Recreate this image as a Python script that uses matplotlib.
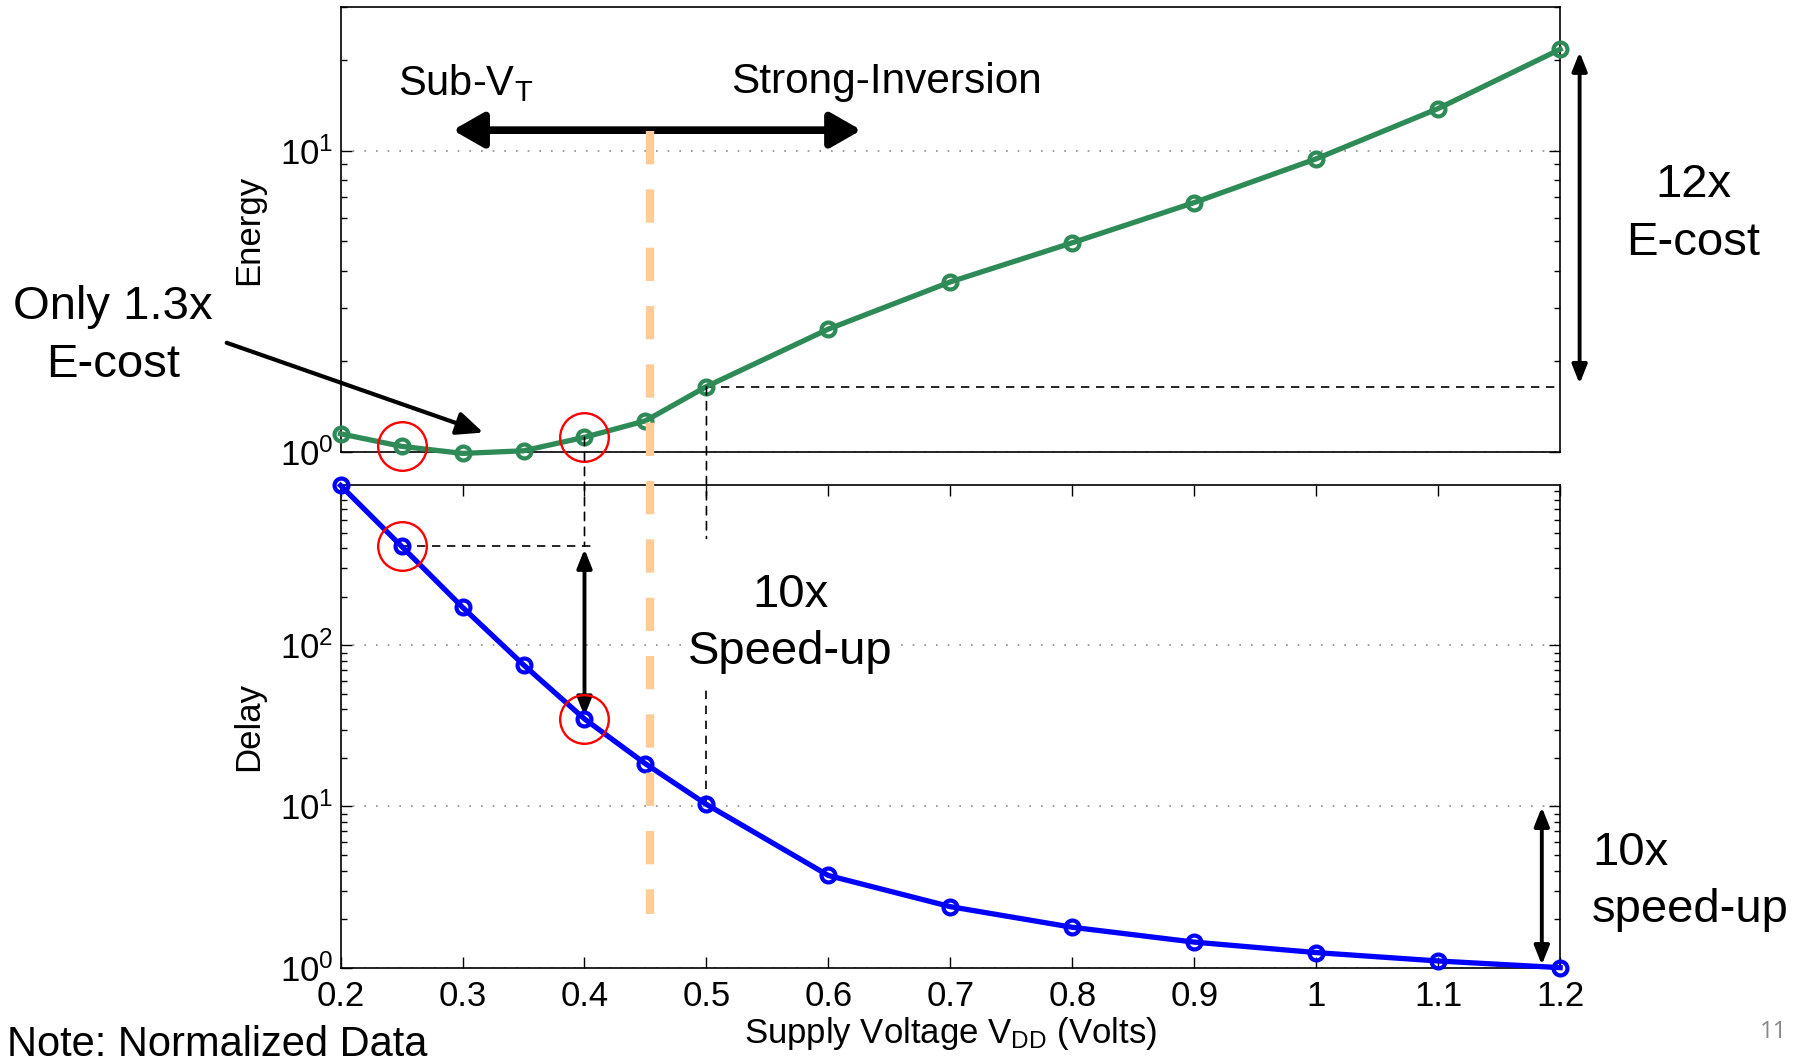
import numpy as np
import matplotlib
matplotlib.use("Agg")
import matplotlib.pyplot as plt
from matplotlib.patches import ConnectionPatch
from matplotlib.lines import Line2D
from matplotlib.transforms import blended_transform_factory

# Normalized data
vdd = [0.2, 0.25, 0.3, 0.35, 0.4, 0.45, 0.5, 0.6, 0.7, 0.8, 0.9, 1.0, 1.1, 1.2]
energy = [1.15, 1.045, 0.99, 1.01, 1.12, 1.27, 1.65, 2.56, 3.67, 4.95, 6.73, 9.4, 13.8, 21.7]
delay = [980, 411, 172, 75.6, 34.9, 18.4, 10.3, 3.73, 2.39, 1.78, 1.44, 1.24, 1.10, 1.0]
circled = [0.25, 0.4]
xtick_vals = [0.2, 0.3, 0.4, 0.5, 0.6, 0.7, 0.8, 0.9, 1.0, 1.1, 1.2]
xtick_labels = ["0.2", "0.3", "0.4", "0.5", "0.6", "0.7", "0.8", "0.9", "1", "1.1", "1.2"]
v_boundary = 0.454

green = "#2E8B57"
blue = "#0000FF"
peach = "#FFCC99"

plt.rcParams["font.family"] = ["Liberation Sans", "DejaVu Sans"]
plt.rcParams["mathtext.default"] = "regular"

E = dict(zip(vdd, energy))
D = dict(zip(vdd, delay))

fig = plt.figure(figsize=(18.04, 10.63), dpi=100)
ax1 = fig.add_axes([0.1888, 0.5747, 0.676, 0.4188])
ax2 = fig.add_axes([0.1888, 0.0897, 0.676, 0.4536])

for ax in (ax1, ax2):
    ax.set_yscale("log")
    ax.set_xlim(0.2, 1.2)
    ax.tick_params(which="both", direction="in", left=True, right=True, top=True, bottom=True,
                   width=1, labelsize=25)
    ax.tick_params(which="major", length=8)
    ax.tick_params(which="minor", length=4)
    ax.tick_params(axis="y", pad=5)
    ax.yaxis.grid(True, which="major", linestyle=(0, (1, 6)), color="0.55", lw=1.2)
    for s in ax.spines.values():
        s.set_linewidth(1.2)

# Energy panel
ax1.plot(vdd, energy, "-o", color=green, lw=3.8, ms=10, mfc="none", mew=3, clip_on=False, zorder=4)
ax1.set_ylim(1, 30)
ax1.set_xticks([])
ax1.set_ylabel("Energy", fontsize=25)
ax1.yaxis.set_label_coords(-0.062, 0.5)
ax1.plot(circled, [E[v] for v in circled], "o", ms=35, mfc="none", mec="red", mew=1.7,
         clip_on=False, zorder=5)

# Delay panel
ax2.plot(vdd, delay, "-o", color=blue, lw=3.8, ms=10, mfc="none", mew=3, clip_on=False, zorder=4)
ax2.set_ylim(1, 980)
ax2.set_xticks(xtick_vals)
ax2.set_xticklabels(xtick_labels)
ax2.tick_params(axis="x", pad=9)
ax2.set_ylabel("Delay", fontsize=25)
ax2.yaxis.set_label_coords(-0.062, 0.5)
ax2.set_xlabel("Supply Voltage V$_{DD}$ (Volts)", fontsize=25, labelpad=1)
ax2.plot(circled, [D[v] for v in circled], "o", ms=35, mfc="none", mec="red", mew=1.7,
         clip_on=False, zorder=5)

# boundary between sub-threshold and strong inversion
trans = blended_transform_factory(ax2.transData, fig.transFigure)
fig.add_artist(Line2D([v_boundary, v_boundary], [0.877, 0.14], transform=trans, color=peach,
                      lw=6, linestyle=(0, (4, 3)), zorder=3))

dash = dict(color="k", lw=1.2, linestyle=(0, (5, 4)))

# dashed guides around the 0.5 V point
ax1.plot([0.5, 1.2], [E[0.5], E[0.5]], **dash, zorder=3)
con = ConnectionPatch(xyA=(0.5, E[0.5]), coordsA=ax1.transData,
                      xyB=(0.5, 460), coordsB=ax2.transData, **dash)
fig.add_artist(con)
ax2.plot([0.5, 0.5], [D[0.5], 55], **dash, zorder=3)

# dashed guides around the 0.4 V / 0.25 V points
con = ConnectionPatch(xyA=(0.4, E[0.4]), coordsA=ax1.transData,
                      xyB=(0.4, D[0.25]), coordsB=ax2.transData, **dash)
fig.add_artist(con)
ax2.plot([0.25, 0.405], [D[0.25], D[0.25]], **dash, zorder=3)

small_arrow = dict(arrowstyle="<|-|>,head_length=0.45,head_width=0.18", color="k", lw=2.8,
                   mutation_scale=25, shrinkA=2, shrinkB=2)
ax2.annotate("", xy=(0.4, D[0.4]), xytext=(0.4, D[0.25]), arrowprops=small_arrow)

# Sub-VT / Strong-Inversion arrow
ax1.annotate("", xy=(0.292, 11.7), xytext=(0.627, 11.7),
             arrowprops=dict(arrowstyle="<|-|>,head_length=0.42,head_width=0.24", color="k",
                             lw=5.5, mutation_scale=44, shrinkA=0, shrinkB=0))
fig.text(0.2206, 0.9102, "Sub-V$_T$", fontsize=30, ha="left", va="baseline")
fig.text(0.405, 0.9123, "Strong-Inversion", fontsize=30.5, ha="left", va="baseline")

# 12x energy cost arrow
ax1.annotate("", xy=(1.216, E[1.2]), xytext=(1.216, E[0.5]), annotation_clip=False,
             arrowprops=small_arrow)
fig.text(0.9388, 0.8258, "12x", fontsize=34, ha="center", va="center")
fig.text(0.9388, 0.7716, "E-cost", fontsize=34, ha="center", va="center")

# only 1.3x arrow
ax1.annotate("", xy=(0.317, 1.161), xytext=(0.1066, 2.305), annotation_clip=False,
             arrowprops=dict(arrowstyle="-|>,head_length=0.5,head_width=0.22", color="k",
                             lw=3, mutation_scale=32, shrinkA=0, shrinkB=0))
fig.text(0.0625, 0.711, "Only 1.3x", fontsize=34, ha="center", va="center")
fig.text(0.0625, 0.657, "E-cost", fontsize=34, ha="center", va="center")

# 10x speed-up annotations
fig.text(0.4381, 0.4405, "10x", fontsize=34, ha="center", va="center")
fig.text(0.4381, 0.3863, "Speed-up", fontsize=34, ha="center", va="center",
         bbox=dict(facecolor="white", edgecolor="none", pad=0))
ax2.annotate("", xy=(1.185, D[1.2]), xytext=(1.185, D[0.5]), annotation_clip=False,
             arrowprops=small_arrow)
fig.text(0.8826, 0.198, "10x", fontsize=34, ha="left", va="center")
fig.text(0.8826, 0.1439, "speed-up", fontsize=34, ha="left", va="center")

fig.text(0.0037, 0.007, "Note: Normalized Data", fontsize=30, ha="left", va="baseline")
fig.text(0.983, 0.0294, "11", fontsize=17, color="#888888", ha="center", va="center",
         family=["Open Sans", "DejaVu Sans"])

fig.savefig("out.png", dpi=100)
